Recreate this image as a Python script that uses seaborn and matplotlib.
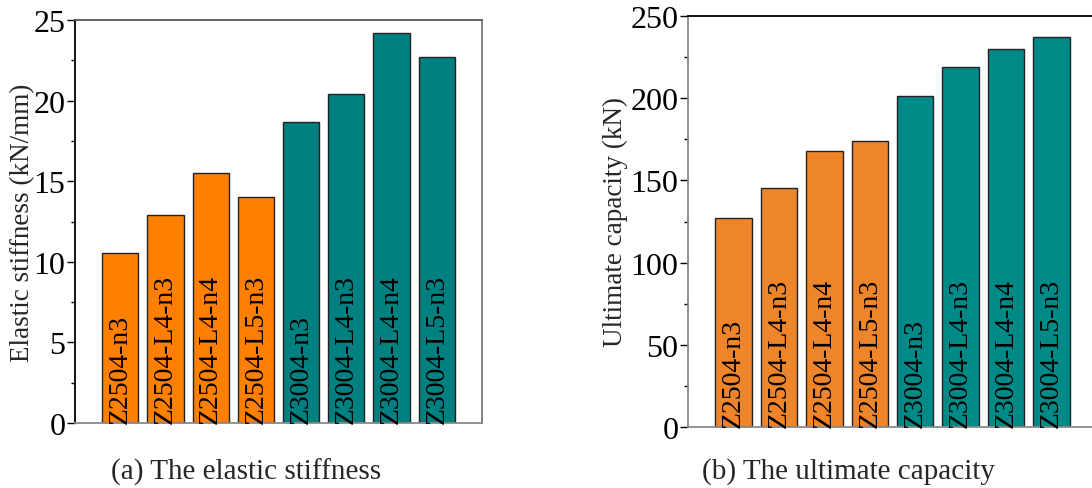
import matplotlib
matplotlib.use("Agg")
import matplotlib.pyplot as plt
from matplotlib.ticker import MultipleLocator
import seaborn as sns
import pandas as pd

specimens = ["Z2504-n3", "Z2504-L4-n3", "Z2504-L4-n4", "Z2504-L5-n3",
             "Z3004-n3", "Z3004-L4-n3", "Z3004-L4-n4", "Z3004-L5-n3"]
groups = ["Z2504"] * 4 + ["Z3004"] * 4
stiffness = [10.55, 12.9, 15.5, 14.0, 18.7, 20.4, 24.2, 22.7]
capacity = [127.2, 145.5, 167.6, 173.7, 201.1, 219.0, 229.7, 237.4]

sns.set_theme(style="white")
plt.rcParams["font.family"] = ["Liberation Serif", "DejaVu Serif"]

fig = plt.figure(figsize=(10.92, 4.89), dpi=100)
ax1 = fig.add_axes([75 / 1092, 1 - 424 / 489, 407 / 1092, 403 / 489])
ax2 = fig.add_axes([688 / 1092, 1 - 428 / 489, 409 / 1092, 411 / 489])

df = pd.DataFrame({"spec": specimens, "group": groups,
                   "stiff": stiffness, "cap": capacity})

def draw(ax, col, pal, ymax, major, minor, ylabel, lab_x, caption, cap_x,
         spine_cols):
    sns.barplot(data=df, x="spec", y=col, hue="group", palette=pal,
                dodge=False, width=0.8, edgecolor="#222222", linewidth=1.0,
                legend=False, ax=ax, saturation=1)
    ax.set_xlim(-1, 8)
    ax.set_ylim(0, ymax)
    ax.yaxis.set_major_locator(MultipleLocator(major))
    ax.yaxis.set_minor_locator(MultipleLocator(minor))
    ax.tick_params(axis="y", which="major", direction="out", length=6,
                   width=1, labelsize=23, left=True, colors="black", pad=1)
    ax.tick_params(axis="y", which="minor", direction="out", length=3,
                   width=1, left=True, colors="black")
    ax.set_xticks([])
    ax.set_xlabel("")
    ax.set_ylabel(ylabel, fontsize=19.5)
    ax.yaxis.set_label_coords(lab_x, 0.5)
    for i, s in enumerate(specimens):
        ax.text(i, 0.0, s, rotation=90, ha="center", va="bottom",
                fontsize=20, color="black")
    for side, c in spine_cols.items():
        ax.spines[side].set_color(c)
        ax.spines[side].set_linewidth(1.3)
    fig.text(cap_x, 1 - 472 / 489, caption, ha="center", va="center",
             fontsize=21)

draw(ax1, "stiff", {"Z2504": "#FF8000", "Z3004": "#008080"}, 25, 5, 2.5,
     "Elastic stiffness (kN/mm)", (35 - 75) / 407,
     "(a) The elastic stiffness", 246 / 1092,
     {"left": "black", "top": "#555555", "right": "#777777", "bottom": "#888888"})
draw(ax2, "cap", {"Z2504": "#EF852A", "Z3004": "#008A87"}, 250, 50, 25,
     "Ultimate capacity (kN)", (628 - 688) / 409,
     "(b) The ultimate capacity", 849 / 1092,
     {"left": "#888888", "top": "black", "right": "#777777", "bottom": "#888888"})

fig.savefig("out.png", dpi=100)
